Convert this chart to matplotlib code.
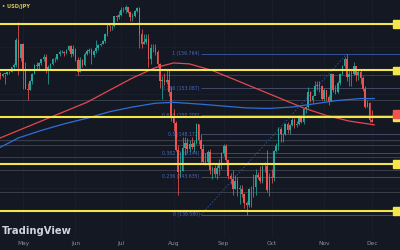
import matplotlib
matplotlib.use("Agg")
import matplotlib.pyplot as plt
import matplotlib.transforms as mtransforms
from matplotlib.patches import Rectangle

# ---------------- data (daily USD/JPY, bar index 0 = 15 Apr) ----------------
first_open = 153.90
closes = [154.25, 154.70, 154.40, 154.65, 154.65, 154.80, 154.85, 155.35, 155.60, 158.30,
          156.35, 157.80, 155.00, 153.00, 152.95, 153.90, 154.65, 155.55, 155.45, 155.75,
          156.20, 156.40, 154.90, 155.40, 155.65, 156.25, 156.20, 156.80, 156.95, 156.95,
          156.85, 157.15, 157.60, 156.80, 157.30, 156.10, 154.80, 156.10, 155.60, 156.75,
          157.05, 157.20, 156.65, 157.05, 157.40, 157.70, 157.85, 158.10, 158.85, 159.80,
          159.70, 159.70, 160.80, 160.75, 160.90, 161.45, 161.45, 161.75, 161.25, 160.75,
          160.80, 161.35, 161.65, 158.90, 157.85, 158.05, 158.35, 156.20, 157.40, 157.45,
          157.00, 155.65, 153.90, 153.95, 153.75, 154.00, 152.70, 149.95, 149.35, 146.55,
          144.20, 144.30, 146.70, 147.25, 146.60, 147.20, 146.80, 147.30, 149.30, 147.60,
          146.60, 145.25, 145.25, 146.30, 144.35, 144.55, 143.90, 144.60, 144.95, 146.15,
          146.95, 145.45, 143.75, 143.40, 142.30, 143.15, 142.40, 142.40, 141.80, 140.85,
          140.60, 142.35, 142.30, 142.60, 143.85, 143.60, 143.20, 144.80, 144.80, 142.20,
          143.60, 143.55, 146.40, 146.90, 148.70, 148.20, 148.20, 149.30, 148.60, 149.15,
          149.75, 149.20, 149.25, 150.10, 149.50, 150.85, 151.05, 152.75, 151.85, 152.30,
          153.30, 153.40, 153.35, 152.00, 152.95, 152.15, 151.60, 154.65, 152.95, 152.65,
          153.70, 154.60, 155.45, 156.25, 154.30, 154.65, 154.65, 155.45, 154.50, 154.80,
          154.20, 153.05, 151.10, 151.55, 149.75, 149.55]
highs = [154.45, 154.75, 154.80, 154.70, 154.65, 154.85, 154.90, 155.40, 155.75, 158.45,
         160.20, 157.85, 157.95, 155.95, 153.65, 154.00, 154.75, 155.65, 155.95, 155.95,
         156.25, 156.80, 156.75, 155.60, 155.75, 156.30, 156.40, 156.80, 157.20, 157.20,
         157.10, 157.30, 157.70, 157.70, 157.70, 157.45, 156.45, 156.40, 156.20, 157.00,
         157.30, 157.35, 157.40, 157.20, 158.25, 157.80, 157.95, 158.20, 158.95, 159.90,
         159.90, 159.85, 160.85, 160.90, 161.30, 161.75, 161.75, 161.95, 161.75, 161.30,
         161.15, 161.50, 161.80, 161.75, 159.45, 158.90, 158.85, 158.85, 157.85, 157.85,
         157.85, 157.20, 155.75, 154.40, 154.75, 155.20, 155.00, 153.25, 150.90, 149.65,
         147.00, 146.35, 147.90, 147.90, 147.80, 147.55, 147.85, 147.60, 149.40, 149.25,
         148.20, 147.15, 146.20, 146.50, 146.60, 144.85, 144.90, 144.90, 145.55, 146.25,
         147.20, 147.20, 145.60, 144.10, 144.40, 143.85, 143.65, 142.80, 142.80, 141.90,
         141.05, 142.50, 142.70, 143.95, 144.50, 144.20, 144.80, 144.95, 145.20, 146.50,
         144.10, 144.50, 146.50, 147.25, 149.00, 149.00, 148.35, 149.35, 149.55, 149.30,
         149.95, 149.95, 149.65, 150.30, 150.30, 150.95, 151.25, 153.20, 152.85, 152.40,
         153.90, 153.90, 153.85, 153.50, 153.10, 152.60, 152.40, 154.70, 154.65, 153.40,
         153.85, 154.75, 155.60, 156.45, 156.75, 155.20, 155.00, 155.90, 155.30, 155.00,
         155.00, 154.40, 153.30, 151.90, 151.60, 150.75]
lows = [153.65, 154.10, 154.10, 154.25, 153.60, 154.55, 154.60, 154.80, 155.10, 155.40,
        154.55, 156.05, 153.05, 153.00, 151.86, 152.95, 153.60, 154.65, 155.10, 155.20,
        155.60, 156.00, 154.70, 153.60, 155.10, 155.60, 155.90, 156.10, 156.50, 156.85,
        156.50, 156.75, 157.10, 156.40, 156.50, 156.00, 154.55, 154.80, 155.40, 155.45,
        156.70, 156.85, 155.70, 156.40, 156.90, 157.15, 157.60, 157.80, 157.90, 158.70,
        159.25, 159.35, 159.65, 160.25, 160.50, 160.80, 161.20, 161.10, 161.10, 160.25,
        160.25, 160.70, 161.20, 157.45, 157.40, 157.80, 157.85, 155.40, 155.70, 156.95,
        156.60, 155.40, 153.10, 151.95, 153.50, 153.60, 152.30, 149.65, 148.50, 146.45,
        141.70, 143.60, 144.25, 145.95, 146.20, 146.30, 146.60, 146.30, 147.10, 147.20,
        145.20, 145.15, 144.95, 144.95, 143.90, 143.45, 143.65, 143.40, 143.85, 144.50,
        145.85, 145.25, 143.40, 142.85, 141.75, 142.30, 141.60, 140.70, 141.50, 140.30,
        139.58, 140.40, 140.45, 141.50, 141.70, 143.40, 142.95, 143.00, 144.20, 142.05,
        141.65, 142.95, 143.25, 146.25, 146.50, 147.35, 147.35, 148.10, 148.30, 148.20,
        149.10, 148.85, 149.00, 149.20, 149.35, 149.30, 150.45, 150.95, 151.60, 151.50,
        152.50, 152.90, 152.75, 151.80, 151.70, 151.80, 151.30, 151.70, 152.70, 152.50,
        152.60, 153.50, 154.50, 155.30, 153.85, 153.30, 153.30, 154.50, 153.90, 153.95,
        153.55, 152.85, 150.95, 151.10, 149.50, 149.50]

month_labels = ["May", "Jun", "Jul", "Aug", "Sep", "Oct", "Nov", "Dec"]
month_index = [12, 35, 55, 78, 100, 121, 144, 165]

ma_red_idx = [2, 10, 20, 30, 40, 50, 60, 70, 78, 85, 95, 105, 115, 125, 135, 145, 155, 166]
ma_red_val = [147.8, 148.6, 149.6, 150.6, 151.6, 152.9, 154.2, 155.3, 155.8, 155.7, 155.0,
              154.0, 153.0, 152.0, 151.0, 150.2, 149.6, 149.2]
ma_blue_idx = [2, 10, 20, 30, 40, 50, 60, 70, 78, 90, 100, 110, 120, 130, 140, 150, 160, 166]
ma_blue_val = [146.8, 147.8, 148.6, 149.3, 149.9, 150.6, 151.1, 151.5, 151.6, 151.4, 151.2,
               151.0, 150.95, 151.1, 151.45, 151.8, 152.0, 152.0]

key_levels = [140.0, 145.0, 150.0, 155.0, 160.0]
grey_levels = [151.9, 147.6, 147.0, 145.8, 144.4, 142.0]
grey_partial = [154.5]
fib_ratios = [1.0, 0.786, 0.618, 0.5, 0.382, 0.236, 0.0]
fib_low, fib_high = 139.580, 156.764
fib_start, fib_end = 90, 154
current_price = 150.4

# ---------------- drawing ----------------
BG = "#141823"
fig = plt.figure(figsize=(4, 2.5), dpi=100, facecolor=BG)
ax = fig.add_axes([0, 0.048, 1, 0.952])
ax.set_facecolor(BG)
ax.set_xlim(1.9, 177.3)
ax.set_ylim(137.12, 162.52)

# faint grid
for m in month_index:
    ax.axvline(m, color="#1b2030", lw=0.6, zorder=0)
for p in [140, 142.5, 145, 147.5, 150, 152.5, 155, 157.5, 160]:
    ax.axhline(p, color="#1b2030", lw=0.6, zorder=0)

# grey horizontal levels
for g in grey_levels:
    ax.axhline(g, color="#3a3f4c", lw=0.7, zorder=1)
for g in grey_partial:
    ax.hlines(g, 35, 177.3, color="#3a3f4c", lw=0.7, zorder=1)

# fibonacci retracement
for r in fib_ratios:
    lvl = fib_low + (fib_high - fib_low) * r
    col = "#36509a" if r in (1.0, 0.0) else "#434a66"
    ax.hlines(lvl, fib_start, 177.3, color=col, lw=0.7, zorder=1)
    ax.text(fib_start - 0.5, lvl, f"{r:g} ({lvl:.3f})", color="#4a67c8",
            fontsize=3.3, ha="right", va="center", zorder=2)
ax.plot([fib_start, fib_end], [fib_low, fib_high], color="#36509a", lw=0.6,
        ls=(0, (2, 2)), zorder=1)

# candles
opens = [first_open] + closes[:-1]
idx = list(range(len(closes)))
up_col, dn_col = "#26a69a", "#ef5350"
cols = [up_col if c >= o else dn_col for o, c in zip(opens, closes)]
ax.vlines(idx, lows, highs, colors=cols, lw=0.55, zorder=3)
bottoms = [min(o, c) for o, c in zip(opens, closes)]
heights = [max(abs(c - o), 0.05) for o, c in zip(opens, closes)]
ax.bar(idx, heights, bottom=bottoms, width=0.7, color=cols, zorder=4, linewidth=0)

# moving averages
ax.plot(ma_red_idx, ma_red_val, color="#e5484d", lw=0.9, zorder=5)
ax.plot(ma_blue_idx, ma_blue_val, color="#2f6fd8", lw=0.9, zorder=5)

# key yellow levels
for k in key_levels:
    ax.axhline(k, color="#f2e64a", lw=1.5, zorder=6)

# price tags on the right edge
trans = mtransforms.blended_transform_factory(ax.transAxes, ax.transData)
for k in key_levels:
    ax.add_patch(Rectangle((0.983, k - 0.42), 0.03, 0.84, transform=trans,
                           color="#f2e64a", zorder=7, clip_on=False))
ax.add_patch(Rectangle((0.983, current_price - 0.42), 0.03, 0.84, transform=trans,
                       color="#f05350", zorder=8, clip_on=False))

# texts
ax.text(0.005, 0.985, "• USD/JPY", transform=ax.transAxes, color="#d8c95a",
        fontsize=3.6, ha="left", va="top", fontweight="bold", zorder=9)
ax.text(0.005, 0.008, "TradingView", transform=ax.transAxes, color="#d1d4dc",
        fontsize=7.2, ha="left", va="bottom", fontweight="bold", zorder=9)

ax.set_xticks(month_index)
ax.set_xticklabels(month_labels)
ax.tick_params(axis="x", length=0, pad=2.5, labelsize=4.2, colors="#8a8f9c")
ax.set_yticks([])
for s in ax.spines.values():
    s.set_visible(False)

fig.savefig("out.png", dpi=100, facecolor=BG)
